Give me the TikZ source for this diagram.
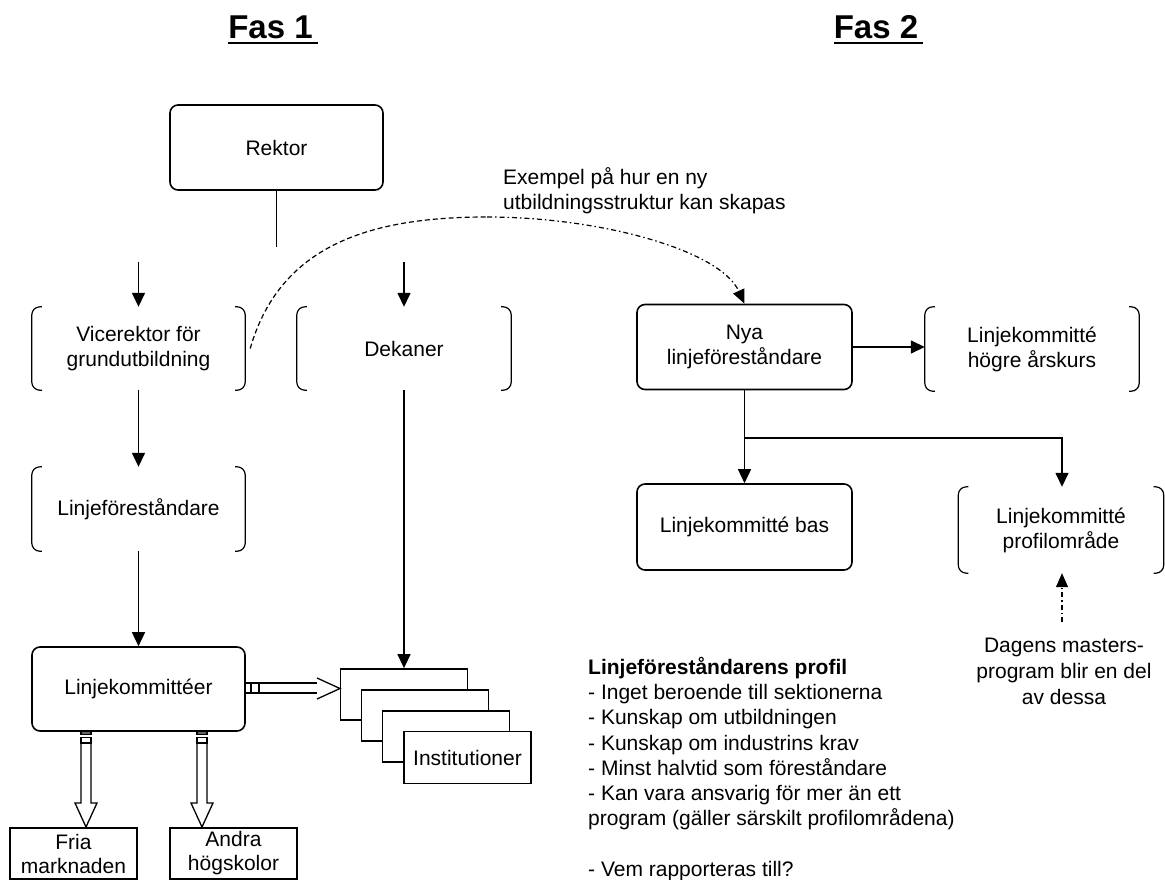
\documentclass[tikz,border=0pt]{standalone}
\usepackage{fontspec}
\setmainfont{Liberation Sans}
\usetikzlibrary{arrows.meta}
\newcommand{\mybrackets}[1]{%
  \draw[brk,rounded corners=8pt] ([xshift=10pt]#1.north west) -- (#1.north west) -- (#1.south west) -- ([xshift=10pt]#1.south west);
  \draw[brk,rounded corners=8pt] ([xshift=-10pt]#1.north east) -- (#1.north east) -- (#1.south east) -- ([xshift=-10pt]#1.south east);}
\begin{document}
\begin{tikzpicture}[x=1pt,y=-1pt,
  lbl/.style={font=\fontsize{21}{25}\selectfont, align=center},
  rbox/.style={lbl, draw, line width=1.6pt, rounded corners=8pt, inner sep=0pt},
  bbox/.style={lbl, inner sep=0pt},
  pbox/.style={lbl, draw, line width=1.8pt, inner sep=0pt, fill=white, minimum width=127pt, minimum height=51pt},
  arr/.style={line width=1.5pt, -{Triangle[length=14pt,width=13pt]}},
  plain/.style={line width=1.5pt},
  brk/.style={line width=1.2pt},
  hol/.style={line width=1.3pt},
  head/.style={font=\fontsize{33}{40}\selectfont\bfseries, anchor=base, inner sep=0pt},
  ]
\useasboundingbox (0,0) rectangle (1165,880);

% headings
\node[head] (fas1) at (270.5,39) {Fas 1};
\node[head] (fas2) at (876,39) {Fas 2};
\draw[line width=2pt] ([yshift=-4pt]fas1.base west) -- ([yshift=-4pt,xshift=5pt]fas1.base east);
\draw[line width=2pt] ([yshift=-4pt]fas2.base west) -- ([yshift=-4pt,xshift=5pt]fas2.base east);

% Fas 1 nodes
\node[rbox, minimum width=213pt, minimum height=85pt] (rektor) at (276.5,147.5) {Rektor};
\node[bbox, minimum width=213pt, minimum height=83pt] (vic) at (138.5,348.5) {Vicerektor för\\grundutbildning};
\node[bbox, minimum width=214pt, minimum height=83pt] (dek) at (404,348.5) {Dekaner};
\node[bbox, minimum width=213pt, minimum height=84pt] (lf) at (138.5,509) {Linjeföreståndare};
\node[rbox, minimum width=213pt, minimum height=84pt] (lk) at (138.5,689) {Linjekommittéer};
\mybrackets{vic}
\mybrackets{dek}
\mybrackets{lf}

\node[pbox] (i1) at (404,694.5) {};
\node[pbox] (i2) at (425,715.5) {};
\node[pbox] (i3) at (446,736.5) {};
\node[pbox, minimum height=52pt] (i4) at (467.5,757.5) {Institutioner};

\node[pbox, font=\fontsize{21}{24}\selectfont] (fria) at (73.5,853.5) {Fria\\marknaden};
\node[pbox, font=\fontsize{21}{24}\selectfont] (andra) at (233.5,853.5) {Andra\\högskolor};

% Fas 1 connectors
\coordinate (rj) at (276.5,247);
\draw[plain] (rektor.south) -- (rj);
\coordinate (a1) at (138.5,262);
\coordinate (a2) at (404,262);
\draw[arr] (a1) -- (vic.north);
\draw[arr] (a2) -- (dek.north);
\draw[arr] (vic.south) -- (lf.north);
\draw[arr] (lf.south) -- (lk.north);
\draw[arr] (dek.south) -- (dek.south |- i1.north);

% hollow arrows down
\foreach \c in {86,202}{
  \draw[hol] ({\c-5},743) -- ({\c-5},803) -- ({\c-11},803) -- (\c,827) -- ({\c+11},803) -- ({\c+5},803) -- ({\c+5},743);
  \draw[hol, fill=black!60] ({\c-5},731) rectangle ({\c+5},734.5);
  \draw[hol] ({\c-5},737.5) rectangle ({\c+5},743);
}
% hollow arrow right
\draw[hol] (245,683) rectangle (259,693);
\draw[hol] (251,683) -- (251,693);
\draw[hol] (259,683) -- (317,683);
\draw[hol] (259,693) -- (317,693);
\draw[hol] (317,678) -- (340,688.5) -- (317,699);

% Fas 2 nodes
\node[rbox, minimum width=215pt, minimum height=85pt] (nya) at (744.5,347) {Nya\\linjeföreståndare};
\node[bbox, minimum width=214pt, minimum height=84pt] (hog) at (1032,349) {Linjekommitté\\högre årskurs};
\node[rbox, minimum width=215pt, minimum height=86pt] (bas) at (744.5,527) {Linjekommitté bas};
\node[bbox, minimum width=205pt, minimum height=86pt] (prof) at (1061,530) {Linjekommitté\\profilområde};
\mybrackets{hog}
\mybrackets{prof}

% example text and curve
\node[lbl, align=left, anchor=west, inner sep=0pt] (ex) at (503,191) {Exempel på hur en ny\\utbildningsstruktur kan skapas};
\coordinate (ctop) at (487,217);
\draw[line width=1.2pt, dash pattern=on 5pt off 3pt] ([xshift=5pt]vic.east) .. controls (280,245) and (370,217) .. (ctop);
\draw[line width=1.2pt, dash pattern=on 5pt off 3pt on 1.5pt off 3pt, -{Triangle[length=14pt,width=12pt]}] (ctop) .. controls (600,217) and (720,250) .. (nya.north);

% Fas 2 connectors
\draw[arr] (nya.east) -- (nya.east -| hog.west);
\coordinate (j) at (744.5,438);
\coordinate (jr) at (1062,438);
\draw[plain] (nya.south) -- (j);
\draw[arr] (j) -- (bas.north);
\draw[arr] (j) -- (jr) -- (prof.north -| jr);

% Dagens
\node[lbl, inner sep=0pt, font=\fontsize{21}{26}\selectfont] (dag) at (1064,671) {Dagens masters-\\program blir en del\\av dessa};
\coordinate (dg) at (1062,622);
\draw[line width=1.2pt, dash pattern=on 5pt off 3pt on 1.5pt off 3pt, -{Triangle[length=14pt,width=12pt]}] (dg) -- (prof.south -| dg);

% profile text
\node[anchor=north west, inner sep=0pt, align=left, font=\fontsize{21}{25.2}\selectfont] (ptext) at (588,657)
 {\textbf{Linjeföreståndarens profil}\\
  - Inget beroende till sektionerna\\
  - Kunskap om utbildningen\\
  - Kunskap om industrins krav\\
  - Minst halvtid som föreståndare\\
  - Kan vara ansvarig för mer än ett\\
  program (gäller särskilt profilområdena)\\[25.2pt]
  - Vem rapporteras till?};
\end{tikzpicture}
\end{document}
